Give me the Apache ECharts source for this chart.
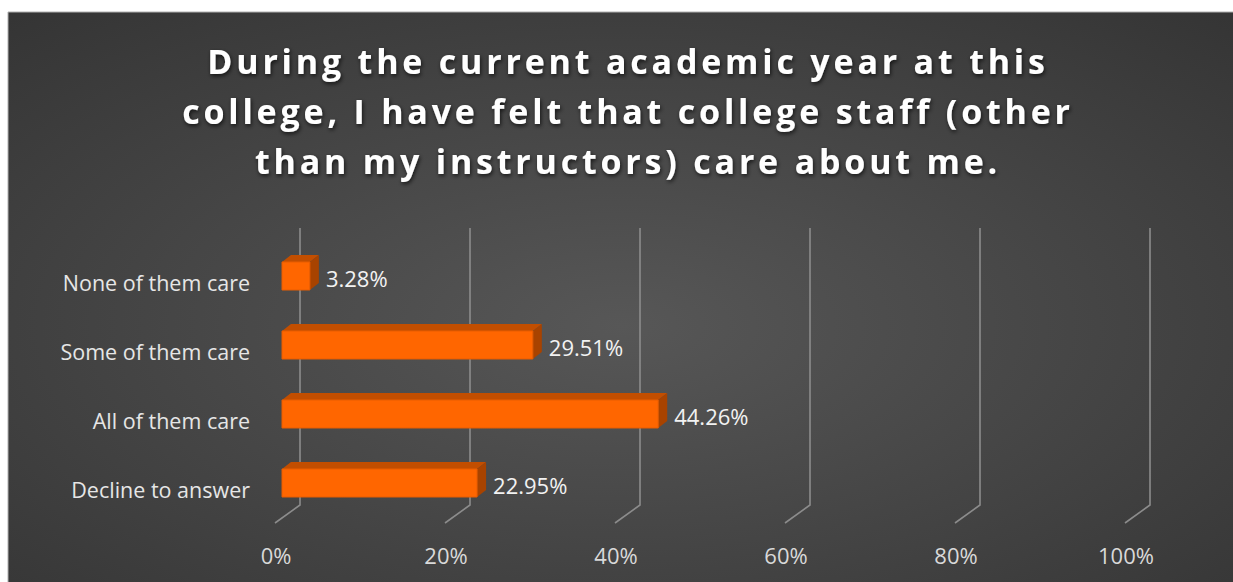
<!DOCTYPE html>
<html><head><meta charset="utf-8">
<script src="https://cdn.jsdelivr.net/npm/echarts@6/dist/echarts.min.js"></script>
<style>html,body{margin:0;padding:0;background:#fff}#c{width:1233px;height:582px}</style>
</head><body><div id="c"></div>
<script>
const titleLines = ['During the current academic year at this', 'college, I have felt that college staff (other', 'than my instructors) care about me.'];
const categories = ['None of them care', 'Some of them care', 'All of them care', 'Decline to answer'];
const values = [3.28, 29.51, 44.26, 22.95];
const tickValues = [0, 20, 40, 60, 80, 100];

const chart = echarts.init(document.getElementById('c'), null, { renderer: 'svg' });
const DX = 9, DY = 7, BAR_H = 28, WALL = 18;

chart.setOption({
  backgroundColor: '#ffffff',
  animation: false,
  graphic: [
    {
      type: 'rect', z: -10, silent: true,
      shape: { x: 8, y: 12, width: 1226, height: 571 },
      style: {
        fill: {
          type: 'radial', x: 0.5, y: 0.55, r: 1.1,
          colorStops: [{ offset: 0, color: '#575757' }, { offset: 1, color: '#242424' }]
        },
        stroke: '#b0b0b0', lineWidth: 1
      }
    },
    {
      type: 'text', z: 10, silent: true,
      style: {
        x: 628, y: 36, text: titleLines.join('\n'),
        fill: '#ffffff', font: 'bold 34px "Open Sans"',
        textAlign: 'center', textVerticalAlign: 'top', lineHeight: 50,
        textShadowColor: 'rgba(0,0,0,0.7)', textShadowBlur: 4, textShadowOffsetX: 1, textShadowOffsetY: 2
      }
    }
  ],
  grid: { left: 282, width: 850, top: 241.5, height: 276 },
  xAxis: {
    type: 'value', min: 0, max: 100, interval: 20,
    axisLine: { show: false }, axisTick: { show: false }, splitLine: { show: false },
    axisLabel: { formatter: '{value}%', color: '#d9d9d9', fontSize: 22, fontFamily: 'Open Sans', margin: 26, padding: [0, 12, 0, 0] }
  },
  yAxis: {
    type: 'category', data: categories, inverse: true,
    axisLine: { show: false }, axisTick: { show: false }, splitLine: { show: false },
    axisLabel: { color: '#e6e6e6', fontSize: 21.5, fontFamily: 'Open Sans', margin: 32, verticalAlign: 'top', lineHeight: 12 }
  },
  series: [
    {
      type: 'custom', z: 1, silent: true,
      data: tickValues.map(v => [v, categories[0]]),
      renderItem: function (params, api) {
        const cs = params.coordSys;
        const x = api.coord([api.value(0), categories[0]])[0] + WALL;
        const top = cs.y - 13.5, bottom = cs.y + cs.height - 12.5;
        return {
          type: 'polyline',
          shape: { points: [[x, top], [x, bottom], [x - 25, bottom + 18]] },
          style: { stroke: '#8c8c8c', lineWidth: 1.6, fill: null }
        };
      }
    },
    {
      type: 'custom', z: 2, silent: true,
      data: values.map((v, i) => [v, categories[i]]),
      renderItem: function (params, api) {
        const v = api.value(0);
        const c0 = api.coord([0, api.value(1)]);
        const c1 = api.coord([v, api.value(1)]);
        const x0 = c0[0], x1 = c1[0], y0 = c0[1] - BAR_H / 2, h = BAR_H;
        return {
          type: 'group',
          children: [
            { type: 'polygon', shape: { points: [[x0, y0], [x0 + DX, y0 - DY], [x1 + DX, y0 - DY], [x1, y0]] }, style: { fill: '#C24E00' } },
            { type: 'polygon', shape: { points: [[x1, y0], [x1 + DX, y0 - DY], [x1 + DX, y0 + h - DY], [x1, y0 + h]] }, style: { fill: '#A84300' } },
            { type: 'rect', shape: { x: x0, y: y0, width: x1 - x0, height: h }, style: { fill: '#FF6600', stroke: '#E85C00', lineWidth: 1 } },
            { type: 'text', style: { x: x1 + 16, y: c0[1] + 2, text: v.toFixed(2) + '%', fill: '#f2f2f2', font: '22px "Open Sans"', textAlign: 'left', textVerticalAlign: 'middle' } }
          ]
        };
      }
    }
  ]
});

function spaceTitle() {
  document.querySelectorAll('#c svg text').forEach(function (t) {
    if (titleLines.indexOf(t.textContent) >= 0) t.setAttribute('letter-spacing', '3.8px');
  });
}
spaceTitle();
chart.on('finished', spaceTitle);
</script>
</body></html>
